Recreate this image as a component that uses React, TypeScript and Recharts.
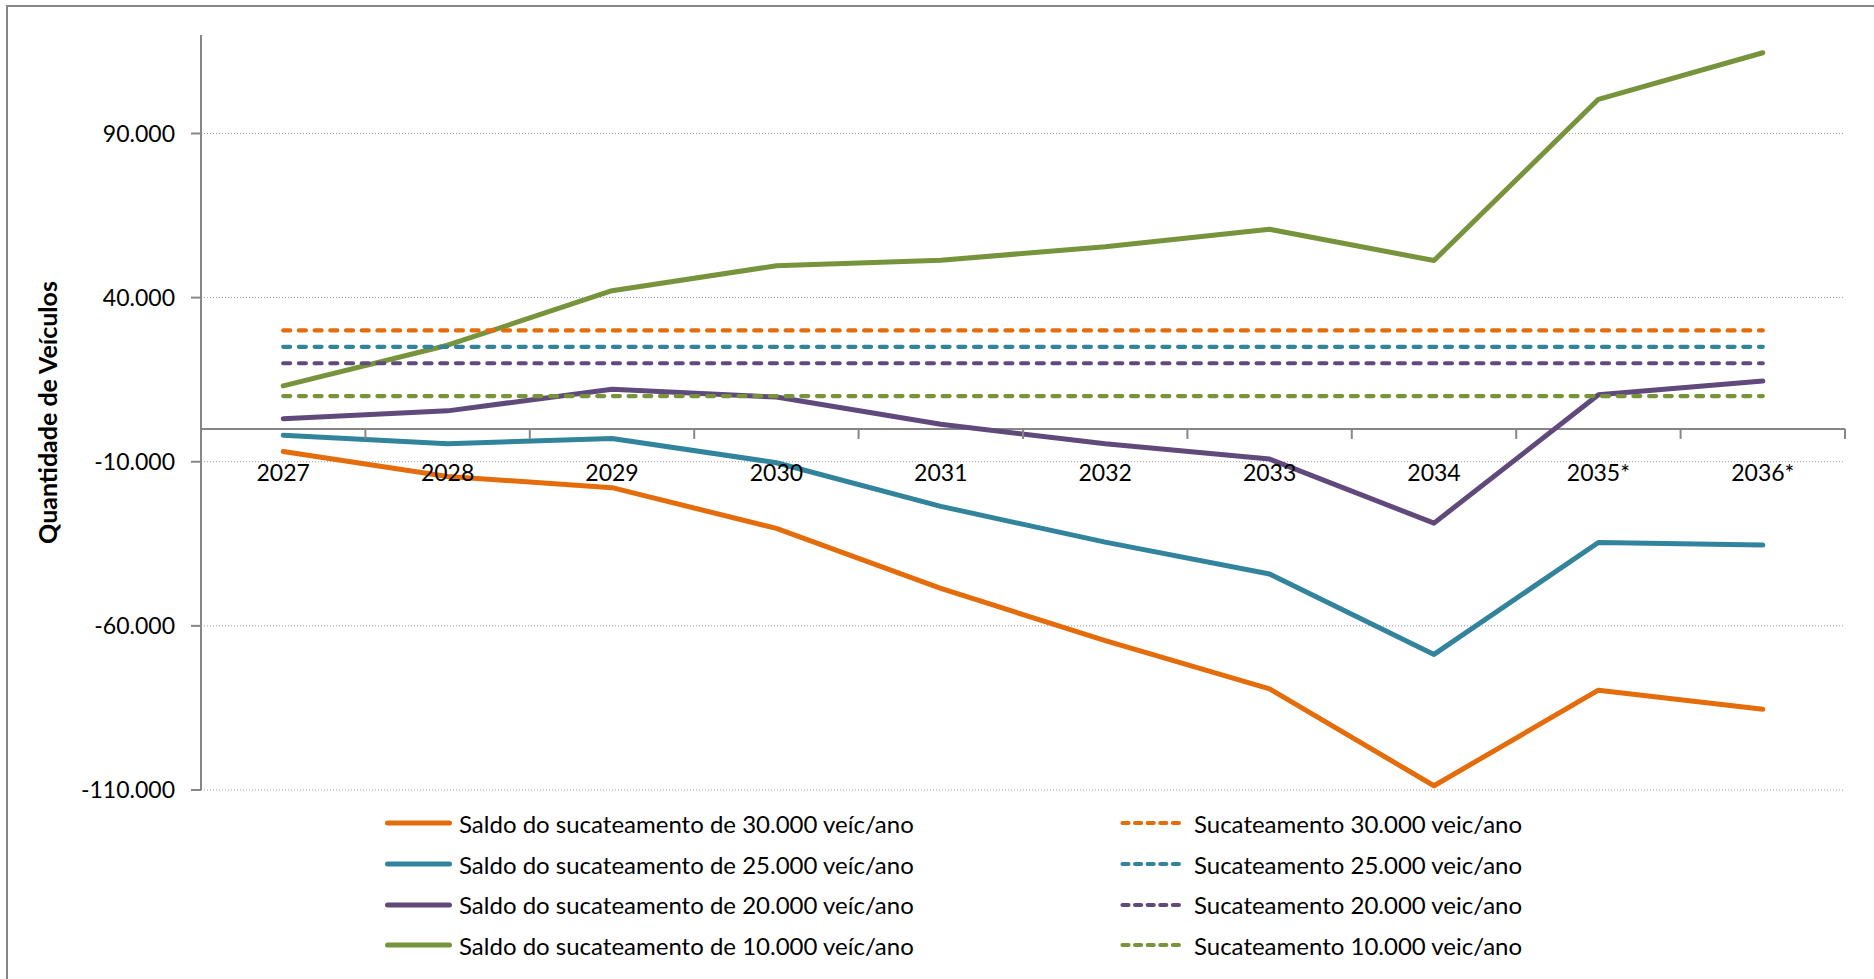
import React from "react";
import { LineChart, Line, XAxis, YAxis, ReferenceLine, Legend } from "recharts";

const YEARS = ["2027", "2028", "2029", "2030", "2031", "2032", "2033", "2034", "2035*", "2036*"];

// saldo (balance) of each scrapping scenario
const SALDO_30 = [-6900, -14500, -17900, -30300, -48600, -64500, -79200, -108700, -79600, -85400];
const SALDO_25 = [-1900, -4500, -2900, -10300, -23600, -34500, -44200, -68700, -34600, -35400];
const SALDO_20 = [3100, 5500, 12100, 9700, 1400, -4500, -9200, -28700, 10400, 14600];
const SALDO_10 = [13100, 25500, 42100, 49700, 51400, 55500, 60800, 51300, 100400, 114600];

// scrapping volumes (flat)
const SUC_30 = [30000, 30000, 30000, 30000, 30000, 30000, 30000, 30000, 30000, 30000];
const SUC_25 = [25000, 25000, 25000, 25000, 25000, 25000, 25000, 25000, 25000, 25000];
const SUC_20 = [20000, 20000, 20000, 20000, 20000, 20000, 20000, 20000, 20000, 20000];
const SUC_10 = [10000, 10000, 10000, 10000, 10000, 10000, 10000, 10000, 10000, 10000];

const Y_TICKS = [-110000, -60000, -10000, 40000, 90000];
const Y_MIN = -110000;
const Y_MAX = 120000;

const ORANGE = "#E46C0A";
const TEAL = "#31849B";
const PURPLE = "#604A7B";
const GREEN = "#77933C";
const AXIS = "#868686";
const FONT = "Lato, 'Open Sans', sans-serif";

const SALDO = [
  { key: "saldo30", name: "Saldo do sucateamento de 30.000 veíc/ano", color: ORANGE, values: SALDO_30 },
  { key: "saldo25", name: "Saldo do sucateamento de 25.000 veíc/ano", color: TEAL, values: SALDO_25 },
  { key: "saldo20", name: "Saldo do sucateamento de 20.000 veíc/ano", color: PURPLE, values: SALDO_20 },
  { key: "saldo10", name: "Saldo do sucateamento de 10.000 veíc/ano", color: GREEN, values: SALDO_10 },
];
const SUC = [
  { key: "suc30", name: "Sucateamento 30.000 veic/ano", color: ORANGE, values: SUC_30 },
  { key: "suc25", name: "Sucateamento 25.000 veic/ano", color: TEAL, values: SUC_25 },
  { key: "suc20", name: "Sucateamento 20.000 veic/ano", color: PURPLE, values: SUC_20 },
  { key: "suc10", name: "Sucateamento 10.000 veic/ano", color: GREEN, values: SUC_10 },
];

const data = YEARS.map((year, i) => {
  const row: Record<string, string | number> = { year };
  [...SALDO, ...SUC].forEach((s) => { row[s.key] = s.values[i]; });
  return row;
});

// layout
const W = 1874;
const H = 979;
const MARGIN = { top: 35, right: 29, bottom: 179, left: 20 };
const Y_AXIS_W = 181;
const X_AXIS_H = 10;
const PLOT_W = W - MARGIN.left - MARGIN.right - Y_AXIS_W;
const PLOT_H = H - MARGIN.top - MARGIN.bottom - X_AXIS_H;
const BAND = PLOT_W / YEARS.length;
const ZERO_OFFSET = (PLOT_H * (0 - Y_MIN)) / (Y_MAX - Y_MIN);
const DASH = "7 8.7";

function fmt(v: number) {
  const s = Math.abs(v).toString().replace(/\B(?=(\d{3})+(?!\d))/g, ".");
  return v < 0 ? "-" + s : s;
}

// x labels sit under the zero line, like Excel's crossing axis
const renderXTick = (props: any) => {
  const { x, y, payload, index } = props;
  const zy = y - ZERO_OFFSET;
  return (
    <g>
      <line x1={x - BAND / 2} x2={x - BAND / 2} y1={zy} y2={zy + 10} stroke={AXIS} strokeWidth={2} />
      {index === YEARS.length - 1 && (
        <line x1={x + BAND / 2} x2={x + BAND / 2} y1={zy} y2={zy + 10} stroke={AXIS} strokeWidth={2} />
      )}
      <text x={x} y={zy + 52} textAnchor="middle" fontSize={23} fontFamily={FONT} fill="#000">
        {payload.value}
      </text>
    </g>
  );
};

const renderYTitle = () => {
  const cx = MARGIN.left + 27;
  const cy = MARGIN.top + PLOT_H / 2;
  return (
    <text x={cx} y={cy} transform={`rotate(-90, ${cx}, ${cy})`} textAnchor="middle" dominantBaseline="central"
      fontSize={25} fontWeight="bold" fontFamily={FONT} fill="#000">
      Quantidade de Veículos
    </text>
  );
};

function LegendItem({ s, dashed }: { s: { name: string; color: string }; dashed: boolean }) {
  return (
    <div style={{ display: "flex", alignItems: "center", height: 40.7 }}>
      <svg width={67} height={10} style={{ display: "block" }}>
        <line x1={2.5} x2={64.5} y1={5} y2={5} stroke={s.color} strokeWidth={dashed ? 4.2 : 5}
          strokeDasharray={dashed ? "6 6.6" : undefined} strokeLinecap="round" />
      </svg>
      <span style={{ marginLeft: 7, fontSize: 24, fontFamily: FONT, color: "#000", whiteSpace: "nowrap" }}>{s.name}</span>
    </div>
  );
}

const renderLegend = () => (
  <div style={{ position: "relative", width: W, height: 165 }}>
    <div style={{ position: "absolute", left: 385, top: 0 }}>
      {SALDO.map((s) => <LegendItem key={s.key} s={s} dashed={false} />)}
    </div>
    <div style={{ position: "absolute", left: 1120, top: 0 }}>
      {SUC.map((s) => <LegendItem key={s.key} s={s} dashed />)}
    </div>
  </div>
);

export default function App() {
  return (
    <div style={{ position: "absolute", left: 0, top: 0, width: W, height: H, overflow: "hidden", background: "#fff" }}>
      <div style={{ position: "absolute", left: 6, top: 5, width: W + 20, height: H + 20,
        borderLeft: `2px solid ${AXIS}`, borderTop: `2px solid ${AXIS}` }} />
      <div style={{ position: "absolute", left: 0, top: 0 }}>
        <LineChart width={W} height={H} data={data} margin={MARGIN}>
          {Y_TICKS.map((v) => (
            <ReferenceLine key={v} y={v} stroke="#9a9a9a" strokeWidth={1} strokeDasharray="1 2" />
          ))}
          <XAxis dataKey="year" height={X_AXIS_H} axisLine={false} tickLine={false} tickSize={0} tickMargin={0}
            padding={{ left: BAND / 2, right: BAND / 2 }} interval={0} tick={renderXTick} />
          <YAxis width={Y_AXIS_W} domain={[Y_MIN, Y_MAX]} ticks={Y_TICKS} interval={0} tickFormatter={fmt}
            tickSize={10} tickMargin={16} axisLine={{ stroke: AXIS, strokeWidth: 2 }}
            tickLine={{ stroke: AXIS, strokeWidth: 2 }}
            tick={{ fontSize: 23, fill: "#000", fontFamily: FONT }}
            label={renderYTitle} />
          <ReferenceLine y={0} stroke={AXIS} strokeWidth={2} />
          {SALDO.map((s) => (
            <Line key={s.key} type="linear" dataKey={s.key} name={s.name} stroke={s.color} strokeWidth={5}
              strokeLinecap="round" strokeLinejoin="round" dot={false} activeDot={false} isAnimationActive={false} />
          ))}
          {SUC.map((s) => (
            <Line key={s.key} type="linear" dataKey={s.key} name={s.name} stroke={s.color} strokeWidth={4.2}
              strokeDasharray={DASH} strokeLinecap="round" dot={false} activeDot={false} isAnimationActive={false} />
          ))}
          <Legend layout="horizontal" verticalAlign="middle" align="center"
            wrapperStyle={{ left: 0, top: 803, width: W }} content={renderLegend} />
        </LineChart>
      </div>
    </div>
  );
}
